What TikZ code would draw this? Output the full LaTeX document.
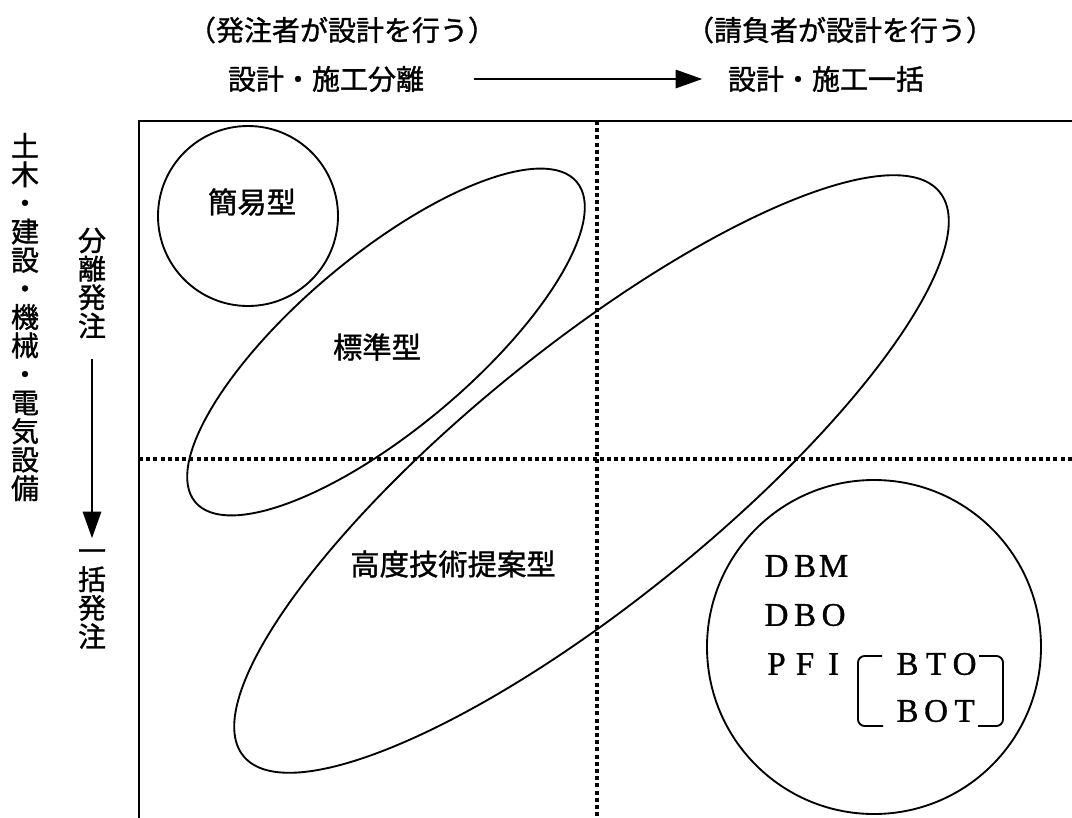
\documentclass[tikz,border=0pt]{standalone}
\usepackage{fontspec}
\newfontfamily\jp[FakeBold=1.2]{Noto Sans CJK JP}
\newfontfamily\lat[FakeBold=1]{Liberation Serif}
\usetikzlibrary{arrows.meta,backgrounds}
\newcommand\abcell[1]{\makebox[21.4pt]{#1}}

\begin{document}
\begin{tikzpicture}[x=0.75pt, y=-0.75pt, inner sep=0pt,
                    every node/.style={font=\jp\fontsize{21}{22}\selectfont},
                    tname/.style={font=\jp\fontsize{22}{24}\selectfont},
                    col/.style={align=center, font=\jp\fontsize{21}{21.4}\selectfont},
                    abbr/.style={anchor=west, font=\lat\fontsize{24.75}{26}\selectfont},
                    ring/.style={line width=1.4pt},
                    divider/.style={line width=3pt, dash pattern=on 3pt off 2.4pt},
                    flow/.style={line width=2.2pt, -{Triangle[length=20pt, width=13.5pt]}}]
    \useasboundingbox (0,0) rectangle (1072,818);

    \node at (342, 30) (owner)      {（発注者が設計を行う）};
    \node at (840, 30) (contractor) {（請負者が設計を行う）};
    \node at (326, 79) (split)      {設計・施工分離};
    \node at (826, 79) (bundle)     {設計・施工一括};
    \draw [flow, shorten <=37pt, shorten >=19pt] (split) -- (bundle);

    \node at ( 25,317) (field)   [col] {土\\木\\・\\建\\設\\・\\機\\械\\・\\電\\気\\設\\備};
    \node at ( 92,283) (bunri)   [col] {分\\離\\発\\注};
    \node at ( 92,549) (ikkatsu) [col, anchor=north] {一\\括\\発\\注};
    \draw [flow, shorten <=15pt, shorten >=8pt] (bunri) -- (ikkatsu);

    \draw [ring] (248,216) circle [radius=90];
    \draw [ring, rotate around={40:(386,342)}] (386,342) ellipse [x radius=249, y radius=87];
    \draw [ring, rotate around={39:(591.5,474)}] (591.5,474) ellipse [x radius=448, y radius=127];
    \draw [ring] (874,647) circle [radius=167];

    \node at (252,202) (simple)   [tname] {簡易型};
    \node at (377,347) (standard) [tname] {標準型};
    \node at (453,564) (advanced) [tname] {高度技術提案型};

    \node at (762,566) (dbm) [abbr] {\abcell{D}\abcell{B}\abcell{M}};
    \node at (762,615) (dbo) [abbr] {\abcell{D}\abcell{B}\abcell{O}};
    \node at (762,664) (pfi) [abbr] {\abcell{P}\abcell{F}\abcell{I}};
    \node at (893,664) (bto) [abbr] {\abcell{B}\abcell{T}\abcell{O}};
    \node at (893,711) (bot) [abbr] {\abcell{B}\abcell{O}\abcell{T}};
    \draw [ring, rounded corners=5pt] (882,656) -- (858,656) -- (858,726) -- (883,726);
    \draw [ring, rounded corners=5pt] (979,656) -- (1003,656) -- (1003,726) -- (978,726);

    \begin{scope}[on background layer]
        \draw [line width=1.9pt] (139,818) -- (139,121) -- (1072,121);
        \draw [divider] (597,121) -- (597,818);
        \draw [divider] (139,459) -- (1072,459);
    \end{scope}
\end{tikzpicture}
\end{document}
